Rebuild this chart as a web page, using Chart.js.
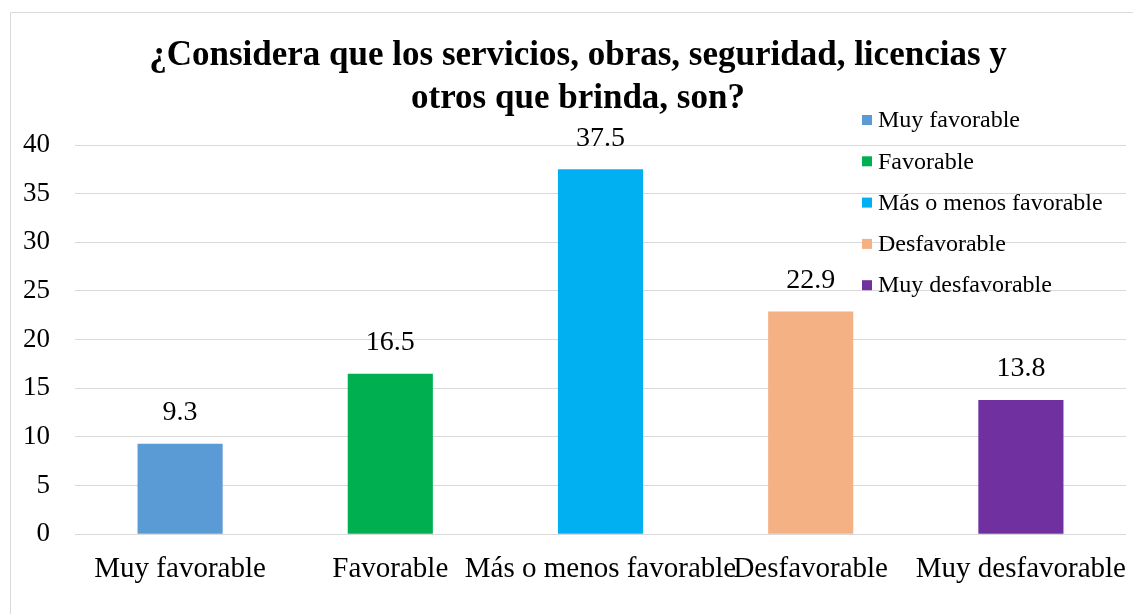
<!DOCTYPE html>
<html>
<head>
<meta charset="utf-8">
<script src="https://cdn.jsdelivr.net/npm/chart.js@4.4.0/dist/chart.umd.min.js"></script>
<style>
  html, body { margin: 0; padding: 0; background: #fff; overflow: hidden; }
  #wrap { position: absolute; left: 0; top: 0; width: 1133px; height: 614px; }
</style>
</head>
<body>
<div id="wrap"><canvas id="chart"></canvas></div>
<script>
// data
const categories = ['Muy favorable', 'Favorable', 'Más o menos favorable', 'Desfavorable', 'Muy desfavorable'];
const values = [9.3, 16.5, 37.5, 22.9, 13.8];
const barColors = ['#5b9bd5', '#00b050', '#00b0f0', '#f4b183', '#7030a0'];
const titleLines = ['¿Considera que los servicios, obras, seguridad, licencias y', 'otros que brinda, son?'];

const serif = '"Liberation Serif", "Times New Roman", serif';

// light gray frame like the Excel chart border
const framePlugin = {
    id: 'frame',
    beforeDraw(chart) {
        const ctx = chart.ctx;
        ctx.save();
        ctx.strokeStyle = '#d9d9d9';
        ctx.lineWidth = 1;
        ctx.beginPath();
        ctx.moveTo(10.5, chart.height);
        ctx.lineTo(10.5, 12.5);
        ctx.lineTo(chart.width, 12.5);
        ctx.stroke();
        ctx.restore();
    }
};

// title is centred on the whole chart object, not only the plot, so draw it here
const titlePlugin = {
    id: 'chartTitle',
    afterDraw(chart) {
        const ctx = chart.ctx;
        ctx.save();
        ctx.font = 'bold 35px ' + serif;
        ctx.fillStyle = '#000';
        ctx.textAlign = 'center';
        ctx.textBaseline = 'middle';
        titleLines.forEach((line, i) => {
            ctx.fillText(line, 578, 56 + i * 43);
        });
        ctx.restore();
    }
};

// value labels above bars
const valueLabels = {
    id: 'valueLabels',
    afterDatasetsDraw(chart) {
        const ctx = chart.ctx;
        const meta = chart.getDatasetMeta(0);
        ctx.save();
        ctx.font = '28px ' + serif;
        ctx.fillStyle = '#000';
        ctx.textAlign = 'center';
        ctx.textBaseline = 'middle';
        meta.data.forEach((bar, i) => {
            ctx.fillText(values[i].toFixed(1), bar.x, bar.y - 31);
        });
        ctx.restore();
    }
};

// legend drawn on top of the plot area (Excel places it over the bars)
const overlayLegend = {
    id: 'overlayLegend',
    afterDraw(chart) {
        const ctx = chart.ctx;
        ctx.save();
        ctx.font = '24px ' + serif;
        ctx.textBaseline = 'middle';
        ctx.textAlign = 'left';
        categories.forEach((label, i) => {
            const y = 120 + i * 41.3;
            ctx.fillStyle = barColors[i];
            ctx.fillRect(862, y - 5, 10, 10);
            ctx.fillStyle = '#000';
            ctx.fillText(label, 878, y + 1);
        });
        ctx.restore();
    }
};

const ctx = document.getElementById('chart').getContext('2d');
const chart = new Chart(ctx, {
    type: 'bar',
    data: {
        labels: categories,
        datasets: [{
            label: 'Serie',
            data: values,
            backgroundColor: barColors,
            borderWidth: 0,
            categoryPercentage: 1,
            barPercentage: 0.405
        }]
    },
    options: {
        responsive: true,
        maintainAspectRatio: false,
        animation: false,
        layout: { padding: { left: 15, right: 7, top: 145, bottom: 9 } },
        plugins: {
            legend: { display: false },
            tooltip: { enabled: false },
            title: { display: false }
        },
        scales: {
            x: {
                // labels may spill past the plot edge, as in Excel
                afterFit(scale) { scale.paddingLeft = 0; scale.paddingRight = 0; },
                grid: { display: false, drawTicks: false },
                border: { display: false },
                ticks: {
                    color: '#000',
                    font: { family: serif, size: 29 },
                    padding: 18,
                    autoSkip: false,
                    maxRotation: 0,
                    minRotation: 0
                }
            },
            y: {
                min: 0,
                max: 40,
                afterFit(scale) { scale.width = 60; },
                grid: { color: '#d9d9d9', lineWidth: 1, drawTicks: false },
                border: { display: false },
                ticks: {
                    stepSize: 5,
                    color: '#000',
                    font: { family: serif, size: 27 },
                    padding: 25
                }
            }
        }
    },
    plugins: [framePlugin, valueLabels, overlayLegend, titlePlugin]
});
</script>
</body>
</html>
